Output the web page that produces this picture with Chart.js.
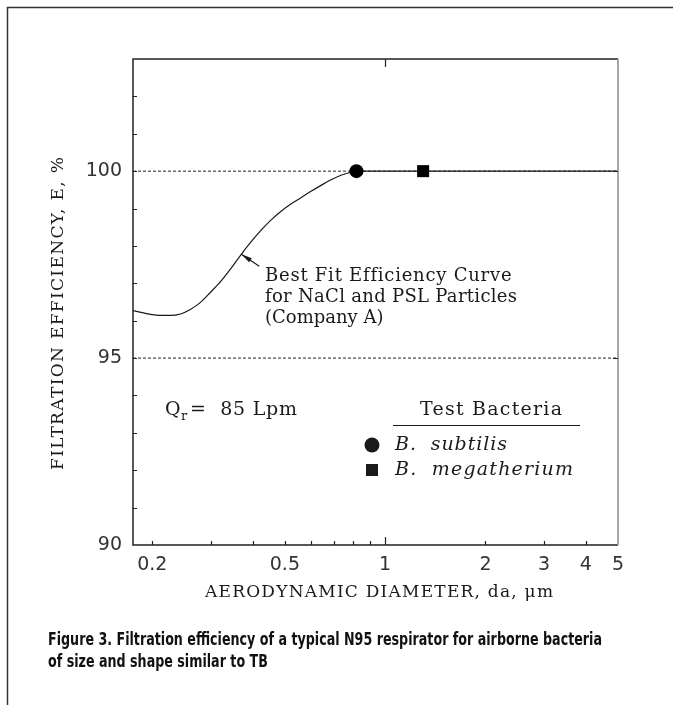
<!DOCTYPE html>
<html>
<head>
<meta charset="utf-8">
<script src="https://cdn.jsdelivr.net/npm/chart.js@4.4.1/dist/chart.umd.min.js"></script>
<style>
  html, body { margin: 0; padding: 0; background: #fff; }
  #wrap { width: 673px; height: 705px; }
</style>
</head>
<body>
<div id="wrap"><canvas id="chart" width="673" height="705"></canvas></div>
<script>
// best fit efficiency curve (NaCl + PSL, company A)
const curveX = [0.175, 0.197, 0.211, 0.227, 0.243, 0.260, 0.279, 0.299, 0.321, 0.344, 0.368, 0.395, 0.423, 0.454, 0.486, 0.521, 0.559, 0.599, 0.642, 0.688, 0.737, 0.790, 0.847, 1.0, 2.0, 5.0];
const curveY = [96.27, 96.17, 96.14, 96.14, 96.18, 96.30, 96.49, 96.76, 97.05, 97.39, 97.75, 98.10, 98.41, 98.69, 98.92, 99.12, 99.29, 99.46, 99.62, 99.77, 99.89, 99.97, 100, 100, 100, 100];

// test bacteria
const bacteriaNames = ["B. subtilis", "B. megatherium"];
const bacteriaX = [0.82, 1.3];
const bacteriaY = [100, 100];
const bacteriaMarkers = ["circle", "rect"];

// dotted reference levels
const refLevels = [95, 100];

const xMin = 0.175, xMax = 5;
const xTickValues = [0.2, 0.3, 0.4, 0.5, 0.6, 0.7, 0.8, 0.9, 1, 2, 3, 4, 5];
const xTickLabels = ["0.2", "", "", "0.5", "", "", "", "", "1", "2", "3", "4", "5"];
const yMin = 90, yMax = 103;
const yTickLabels = ["90", "95", "100"];

const SERIF = "'DejaVu Serif', 'Liberation Serif', serif";
const INK = "#1a1a1a";

const datasets = [
  {
    label: "Best Fit Efficiency Curve",
    data: curveX.map((x, i) => ({ x, y: curveY[i] })),
    borderColor: INK,
    borderWidth: 1.2,
    pointRadius: 0,
    cubicInterpolationMode: "monotone",
    order: 2
  },
  ...refLevels.map(level => ({
    label: "ref " + level,
    data: [{ x: xMin, y: level }, { x: xMax, y: level }],
    borderColor: "#222",
    borderWidth: 1,
    borderDash: [3, 2],
    pointRadius: 0,
    order: 3
  })),
  ...bacteriaNames.map((name, i) => ({
    label: name,
    data: [{ x: bacteriaX[i], y: bacteriaY[i] }],
    showLine: false,
    pointStyle: bacteriaMarkers[i],
    pointRadius: bacteriaMarkers[i] === "rect" ? 8.5 : 7,
    backgroundColor: "#000",
    borderColor: "#000",
    borderWidth: 0,
    order: 1
  }))
];

// draw text stretched (letter spacing) or squeezed to fill a width
function fitText(ctx, text, x, y, width, font) {
  ctx.font = font;
  ctx.letterSpacing = "0px";
  const w = ctx.measureText(text).width;
  const n = [...text].length;
  if (w < width && n > 1) {
    ctx.letterSpacing = ((width - w) / (n - 1)) + "px";
    ctx.fillText(text, x, y);
  } else {
    ctx.fillText(text, x, y, width);
  }
  ctx.letterSpacing = "0px";
}

const decorPlugin = {
  id: "decor",
  afterDraw(chart) {
    const ctx = chart.ctx;
    const { left, right, top, bottom } = chart.chartArea;
    const xs = chart.scales.x, ys = chart.scales.y;
    ctx.save();

    // page frame (top + left only)
    ctx.strokeStyle = "#333";
    ctx.lineWidth = 1.5;
    ctx.beginPath();
    ctx.moveTo(7.5, 705); ctx.lineTo(7.5, 7.5); ctx.lineTo(673, 7.5);
    ctx.stroke();

    // plot box
    ctx.lineWidth = 1.5;
    ctx.strokeStyle = "#222";
    ctx.beginPath();
    ctx.moveTo(right, top); ctx.lineTo(left, top); ctx.lineTo(left, bottom); ctx.lineTo(right, bottom);
    ctx.stroke();
    ctx.strokeStyle = "#888";
    ctx.beginPath();
    ctx.moveTo(right, top); ctx.lineTo(right, bottom);
    ctx.stroke();

    // inward ticks
    ctx.strokeStyle = "#222";
    ctx.lineWidth = 1.2;
    ctx.beginPath();
    for (let v = yMin + 1; v < yMax; v++) {
      const py = Math.round(ys.getPixelForValue(v)) + 0.5;
      ctx.moveTo(left, py); ctx.lineTo(left + 4, py);
      if (v % 5 === 0) { ctx.moveTo(right, py); ctx.lineTo(right - 5, py); }
    }
    xTickValues.forEach(v => {
      if (v >= xMax) return;
      const px = Math.round(xs.getPixelForValue(v)) + 0.5;
      const len = v === 1 ? 8 : 4;
      ctx.moveTo(px, bottom); ctx.lineTo(px, bottom - len);
      if (v === 1) { ctx.moveTo(px, top); ctx.lineTo(px, top + 8); }
    });
    ctx.stroke();

    ctx.fillStyle = INK;
    ctx.textBaseline = "middle";
    ctx.textAlign = "left";

    // axis titles
    fitText(ctx, "AERODYNAMIC DIAMETER, da, \u03bcm", 205, 593, 348, "17px " + SERIF);
    ctx.save();
    ctx.translate(59, 470);
    ctx.rotate(-Math.PI / 2);
    fitText(ctx, "FILTRATION EFFICIENCY, E, %", 0, 0, 313, "17px " + SERIF);
    ctx.restore();

    // annotation + arrow to the curve
    fitText(ctx, "Best Fit Efficiency Curve", 265, 276, 246, "18px " + SERIF);
    fitText(ctx, "for NaCl and PSL Particles", 265, 297, 252, "18px " + SERIF);
    ctx.font = "18px " + SERIF;
    ctx.fillText("(Company A)", 265, 318);

    const tipX = xs.getPixelForValue(0.37), tipY = ys.getPixelForValue(97.78);
    const tailX = tipX + 18, tailY = tipY + 12;
    const ang = Math.atan2(tipY - tailY, tipX - tailX);
    ctx.strokeStyle = INK;
    ctx.lineWidth = 1.2;
    ctx.beginPath();
    ctx.moveTo(tailX, tailY); ctx.lineTo(tipX, tipY);
    ctx.stroke();
    ctx.beginPath();
    ctx.moveTo(tipX, tipY);
    ctx.lineTo(tipX - 11 * Math.cos(ang) + 2.5 * Math.sin(ang), tipY - 11 * Math.sin(ang) - 2.5 * Math.cos(ang));
    ctx.lineTo(tipX - 11 * Math.cos(ang) - 2.5 * Math.sin(ang), tipY - 11 * Math.sin(ang) + 2.5 * Math.cos(ang));
    ctx.closePath();
    ctx.fill();

    // flow rate
    ctx.font = "19px " + SERIF;
    ctx.fillText("Q", 165, 410);
    ctx.font = "13px " + SERIF;
    ctx.fillText("r", 181, 417);
    fitText(ctx, "=  85 Lpm", 190, 410, 107, "19px " + SERIF);

    // legend
    fitText(ctx, "Test Bacteria", 420, 410, 142, "19px " + SERIF);
    ctx.lineWidth = 1.2;
    ctx.beginPath();
    ctx.moveTo(393, 425.5); ctx.lineTo(580, 425.5);
    ctx.stroke();
    const legendY = [445, 470];
    bacteriaNames.forEach((name, i) => {
      const cy = legendY[i];
      ctx.beginPath();
      if (bacteriaMarkers[i] === "circle") ctx.arc(372, cy, 7.5, 0, Math.PI * 2);
      else ctx.rect(366, cy - 6, 12, 12);
      ctx.fill();
      const w = i === 0 ? 112 : 178;
      fitText(ctx, name.replace(". ", ".  "), 395, cy, w, "italic 19px " + SERIF);
    });

    // caption
    ctx.fillStyle = "#111";
    const capFont = "bold 17px 'DejaVu Sans Condensed', 'Liberation Sans Narrow', 'DejaVu Sans', sans-serif";
    ctx.font = capFont;
    const line1 = "Figure 3. Filtration efficiency of a typical N95 respirator for airborne bacteria";
    const line2 = "of size and shape similar to TB";
    const k = 554 / ctx.measureText(line1).width;
    ctx.save();
    ctx.translate(48, 0);
    ctx.scale(k, 1);
    ctx.fillText(line1, 0, 641);
    ctx.fillText(line2, 0, 663);
    ctx.restore();

    ctx.restore();
  }
};

new Chart(document.getElementById("chart"), {
  type: "line",
  data: { datasets },
  options: {
    responsive: false,
    animation: false,
    layout: { padding: { left: 40, top: 59, right: 55, bottom: 120 } },
    plugins: { legend: { display: false }, tooltip: { enabled: false } },
    scales: {
      x: {
        type: "logarithmic",
        min: xMin,
        max: xMax,
        afterBuildTicks: scale => { scale.ticks = xTickValues.map(v => ({ value: v })); },
        afterFit: scale => { scale.height = 40; },
        grid: { display: false, drawTicks: false },
        border: { display: false },
        ticks: {
          autoSkip: false,
          maxRotation: 0,
          padding: 9,
          color: "#333",
          font: { family: "DejaVu Sans", size: 19 },
          callback: (v, i) => xTickLabels[i]
        }
      },
      y: {
        min: yMin,
        max: yMax,
        afterFit: scale => { scale.width = 93; },
        grid: { display: false, drawTicks: false },
        border: { display: false },
        ticks: {
          stepSize: 1,
          padding: 11,
          color: "#333",
          font: { family: "DejaVu Sans", size: 19 },
          callback: v => yTickLabels.includes(String(v)) ? String(v) : ""
        }
      }
    }
  },
  plugins: [decorPlugin]
});
</script>
</body>
</html>
